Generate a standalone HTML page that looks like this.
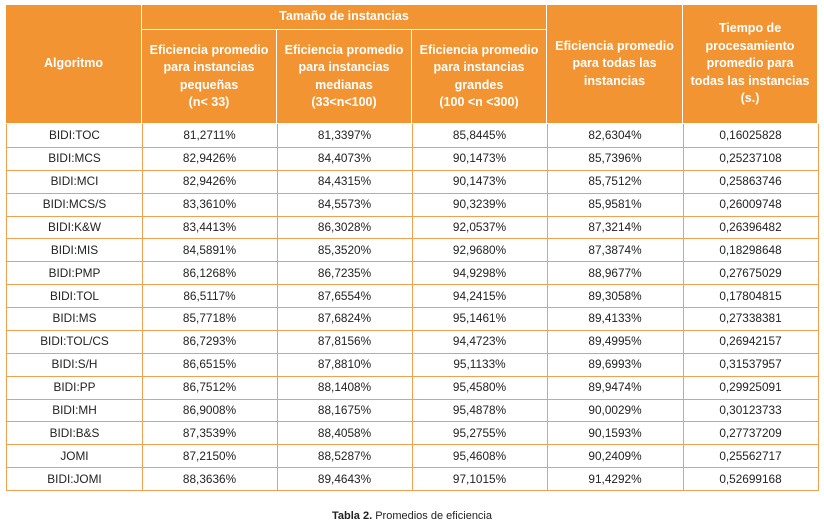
<!DOCTYPE html>
<html><head><meta charset="utf-8"><style>
body{margin:0;width:824px;height:525px;background:#fff;font-family:"Liberation Sans",sans-serif;position:relative;overflow:hidden}
.h{position:absolute;background:#F39433;color:#fff;font-weight:bold;font-size:12.5px;line-height:17.5px;display:flex;align-items:center;justify-content:center;text-align:center;box-sizing:border-box}
.c{position:absolute;font-size:11.8px;color:#222;display:flex;align-items:center;justify-content:center;box-sizing:border-box;border-right:1px solid #F0A050;border-bottom:1px solid #F0A050}
</style></head><body>
<div id="t"></div>
<div style="position:absolute;left:0;width:824px;top:510px;text-align:center;font-size:11px;color:#222"><b>Tabla 2.</b> Promedios de eficiencia</div>
<script>
const algos=["BIDI:TOC","BIDI:MCS","BIDI:MCI","BIDI:MCS/S","BIDI:K&W","BIDI:MIS","BIDI:PMP","BIDI:TOL","BIDI:MS","BIDI:TOL/CS","BIDI:S/H","BIDI:PP","BIDI:MH","BIDI:B&S","JOMI","BIDI:JOMI"];
const small=["81,2711%","82,9426%","82,9426%","83,3610%","83,4413%","84,5891%","86,1268%","86,5117%","85,7718%","86,7293%","86,6515%","86,7512%","86,9008%","87,3539%","87,2150%","88,3636%"];
const medium=["81,3397%","84,4073%","84,4315%","84,5573%","86,3028%","85,3520%","86,7235%","87,6554%","87,6824%","87,8156%","87,8810%","88,1408%","88,1675%","88,4058%","88,5287%","89,4643%"];
const large=["85,8445%","90,1473%","90,1473%","90,3239%","92,0537%","92,9680%","94,9298%","94,2415%","95,1461%","94,4723%","95,1133%","95,4580%","95,4878%","95,2755%","95,4608%","97,1015%"];
const all=["82,6304%","85,7396%","85,7512%","85,9581%","87,3214%","87,3874%","88,9677%","89,3058%","89,4133%","89,4995%","89,6993%","89,9474%","90,0029%","90,1593%","90,2409%","91,4292%"];
const time=["0,16025828","0,25237108","0,25863746","0,26009748","0,26396482","0,18298648","0,27675029","0,17804815","0,27338381","0,26942157","0,31537957","0,29925091","0,30123733","0,27737209","0,25562717","0,52699168"];
const xs=[6,142,277,412,547,683,818];
const t=document.getElementById('t');
function h(x1,x2,y1,y2,html,name){const d=document.createElement('div');d.className='h';


d.style.cssText=`left:${x1}px;top:${y1}px;width:${x2-x1}px;height:${y2-y1}px;border-right:1px solid #fff;border-bottom:1px solid #fff`;d.innerHTML=html;t.appendChild(d);}
h(6,142,5,124,"Algoritmo","header-algoritmo");
h(142,547,5,30,"Tamaño de instancias","header-tamano");
h(142,277,30,124,"Eficiencia promedio<br>para instancias<br>pequeñas<br>(n&lt; 33)","header-small");
h(277,412,30,124,"Eficiencia promedio<br>para instancias<br>medianas<br>(33&lt;n&lt;100)","header-medium");
h(412,547,30,124,"Eficiencia promedio<br>para instancias<br>grandes<br>(100 &lt;n &lt;300)","header-large");
h(547,683,5,124,"Eficiencia promedio<br>para todas las<br>instancias","header-all");
h(683,818,5,124,"Tiempo de<br>procesamiento<br>promedio para<br>todas las instancias<br>(s.)","header-time");
const cols=[algos,small,medium,large,all,time];
const rh=(490-124)/algos.length;
for(let r=0;r<algos.length;r++){for(let c=0;c<6;c++){const d=document.createElement('div');d.className='c';


let st=`left:${xs[c]}px;top:${124+r*rh}px;width:${xs[c+1]-xs[c]+1}px;height:${rh+1}px;`;
if(c==0)st+='border-left:1px solid #F0A050;';
d.style.cssText=st;d.textContent=cols[c][r];t.appendChild(d);}}
</script></body></html>
